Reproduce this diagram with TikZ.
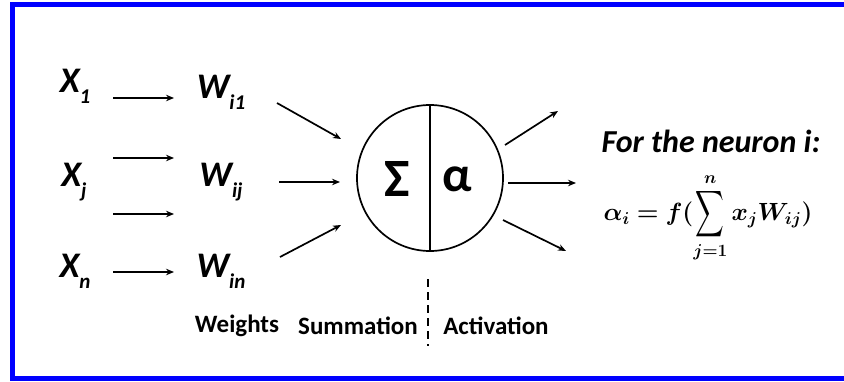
\documentclass[tikz,border=0pt]{standalone}
\usepackage{fontspec}
\setmainfont{Carlito}
\usepackage{amsmath}
\usepackage{bm}
\usetikzlibrary{arrows.meta}
\newcommand\vsub[2]{#1\raisebox{-0.3em}{\fontsize{21}{21}\selectfont #2}}
\newcommand\tallsum{\mathop{\vcenter{\hbox{\scalebox{0.8}[1.3]{$\displaystyle\sum$}}}}}
\tikzset{
  varlab/.style={font=\bfseries\itshape\fontsize{36}{36}\selectfont, inner sep=0pt},
  caplab/.style={font=\bfseries\fontsize{25}{25}\selectfont, inner sep=0pt},
  arr/.style={line width=1.7pt, -{Stealth[length=8pt,width=6.5pt]}},
  frame/.style={draw=blue, line width=5pt},
}
\begin{document}
\begin{tikzpicture}[x=1pt,y=-1pt]
\useasboundingbox (0,0) rectangle (844,381);
\clip (0,0) rectangle (844,381);
\fill[white] (0,0) rectangle (844,381);
\draw[frame] (12,4) rectangle (870,378);

% inputs
\node[varlab] (x1) at (75,86) {\vsub{X}{1}};
\node[varlab] (xj) at (74,182) {\vsub{X}{j}};
\node[varlab] (xn) at (75,271) {\vsub{X}{n}};
% weights
\node[varlab] (w1) at (221,92) {\vsub{W}{i1}};
\node[varlab] (wj) at (221,182) {\vsub{W}{ij}};
\node[varlab] (wn) at (221,271) {\vsub{W}{in}};

% input arrows
\coordinate (a1s) at (113,98);  \coordinate (a1e) at (174,98);
\coordinate (a2s) at (113,158); \coordinate (a2e) at (174,158);
\coordinate (a3s) at (113,214); \coordinate (a3e) at (174,214);
\coordinate (a4s) at (113,272); \coordinate (a4e) at (174,272);
\draw[arr] (a1s) -- (a1e);
\draw[arr] (a2s) -- (a2e);
\draw[arr] (a3s) -- (a3e);
\draw[arr] (a4s) -- (a4e);

% neuron
\node[draw, circle, line width=1.7pt, minimum size=146pt, inner sep=0pt] (n) at (430,178) {};
\draw[line width=1.7pt] (n.north) -- (n.south);
\node[font=\bfseries\fontsize{54}{54}\selectfont, inner sep=0pt] (sig) at (397,179) {Σ};
\node[font=\bfseries\fontsize{50}{50}\selectfont, inner sep=0pt] (alp) at (457,179) {α};

% weights to neuron
\coordinate (b1s) at (277,103); \coordinate (b1e) at (341,139);
\coordinate (b2s) at (279,182); \coordinate (b2e) at (340,182);
\coordinate (b3s) at (280,257); \coordinate (b3e) at (341,225);
\draw[arr] (b1s) -- (b1e);
\draw[arr] (b2s) -- (b2e);
\draw[arr] (b3s) -- (b3e);

% outputs
\coordinate (c1s) at (505,145); \coordinate (c1e) at (558,111);
\coordinate (c2s) at (508,183); \coordinate (c2e) at (576,183);
\coordinate (c3s) at (503,220); \coordinate (c3e) at (566,251);
\draw[arr] (c1s) -- (c1e);
\draw[arr] (c2s) -- (c2e);
\draw[arr] (c3s) -- (c3e);

% dashed divider
\coordinate (d1) at (428,279); \coordinate (d2) at (428,346);
\draw[line width=1.7pt, dash pattern=on 8pt off 5pt] (d1) -- (d2);

% captions
\node[caplab] (wt) at (237,326) {Weights};
\node[caplab] (sm) at (358,326) {Summation};
\node[caplab] (ac) at (496,326) {Activation};

% formula
\node[font=\bfseries\itshape\fontsize{32}{32}\selectfont, inner sep=0pt] (ft) at (711,141) {For the neuron i:};
\node[font=\fontsize{25}{29}\selectfont, inner sep=0pt] (eq) at (708,218)
  {$\displaystyle \bm{\alpha_i} \bm{=} \bm{f(}\tallsum_{\bm{j=1}}^{\bm{n}} \bm{x_j W_{ij})}$};
\end{tikzpicture}
\end{document}
